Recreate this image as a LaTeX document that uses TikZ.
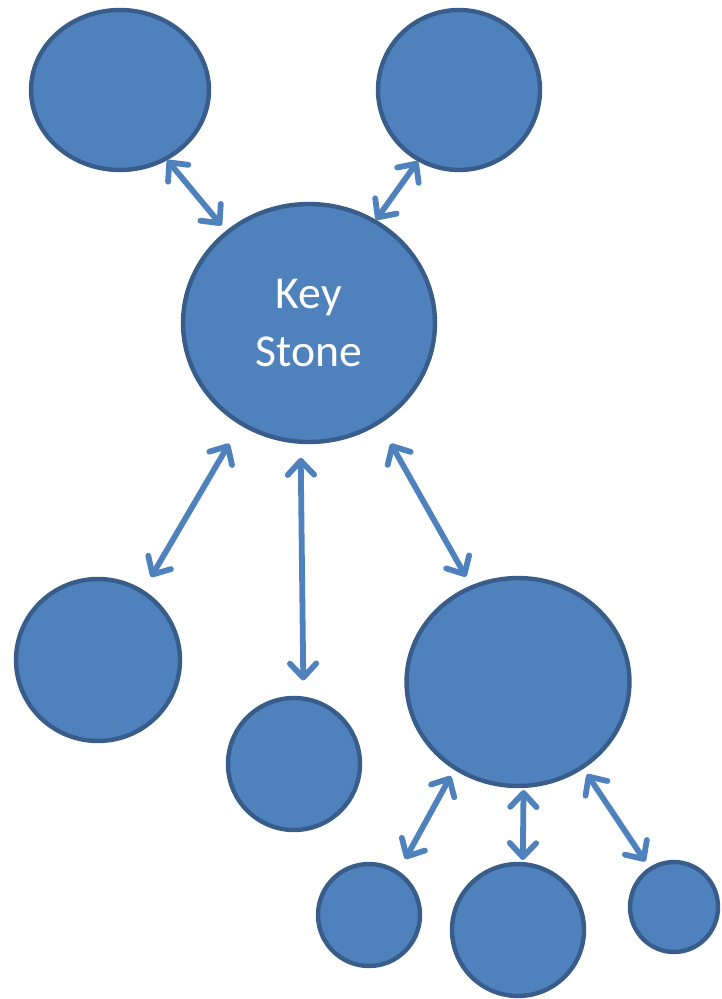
\documentclass[tikz,border=0pt]{standalone}
\usepackage{fontspec}
\setmainfont{Carlito}
\usetikzlibrary{arrows.meta,shapes.geometric}
\definecolor{ball}{RGB}{79,129,189}
\definecolor{rim}{RGB}{56,93,138}

\begin{document}
\begin{tikzpicture}[x=0.02cm, y=-0.02cm,
    blob/.style={ellipse, draw=rim, fill=ball, line width=2.5pt, inner sep=0pt, text=white, font=\fontsize{26}{33}\selectfont, align=center},
    link/.style={{Straight Barb[round,length=8pt,width=15pt]}-{Straight Barb[round,length=8pt,width=15pt]}, line width=3.3pt, ball},
]
\useasboundingbox (0,0) rectangle (721,999);

% Top pair
\node[blob, minimum width=3.56cm, minimum height=3.20cm] (tl) at (120,90) {};
\node[blob, minimum width=3.24cm, minimum height=3.20cm] (tr) at (459,90) {};

% Centre
\node[blob, minimum width=5.04cm, minimum height=4.76cm] (ks) at (309,323) {Key\\Stone};

% Lower row
\node[blob, minimum width=3.28cm, minimum height=3.24cm] (bl) at (98,660) {};
\node[blob, minimum width=2.64cm, minimum height=2.64cm] (bm) at (294,764) {};
\node[blob, minimum width=4.46cm, minimum height=4.16cm] (br) at (518,682) {};

% Bottom row
\node[blob, minimum width=2.04cm, minimum height=2.04cm] (sa) at (369,915) {};
\node[blob, minimum width=2.64cm, minimum height=2.64cm] (sb) at (518,930) {};
\node[blob, minimum width=1.76cm, minimum height=1.80cm] (sc) at (674,907) {};

% Arrows
\draw[link, shorten >=0.14cm] (tl.304) -- (ks.132);
\draw[link] (tr.240) -- (ks.57);
\draw[link, shorten <=0.43cm, shorten >=0.30cm] (ks.236) -- (bl.57);
\draw[link, shorten <=0.28cm, shorten >=0.32cm] (ks.266) -- (bm.82);
\draw[link, shorten <=0.45cm, shorten >=0.20cm] (ks.305) -- (br.116);
\draw[link, shorten <=0.14cm, shorten >=0.27cm] (br.234) -- (sa.56);
\draw[link, shorten <=0.04cm, shorten >=0.04cm] (br.273) -- (sb.86);
\draw[link, shorten <=0.13cm, shorten >=0.14cm] (br.307) -- (sc.122);
\end{tikzpicture}
\end{document}
